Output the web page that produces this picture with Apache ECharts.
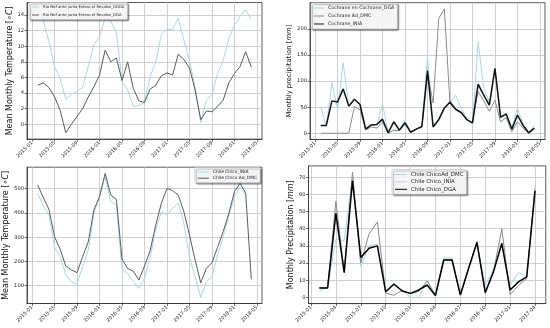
<!DOCTYPE html>
<html><head><meta charset="utf-8">
<script src="https://cdn.jsdelivr.net/npm/echarts@6/dist/echarts.min.js"></script>
<style>html,body{margin:0;padding:0;background:#fff}#c{width:550px;height:328px}</style>
</head><body><div id="c"></div>
<script>
// month lists (index 0 = 2015-01)
function monthList(start, n) {
  let y = +start.slice(0, 4), m = +start.slice(5, 7), out = [];
  for (let i = 0; i < n; i++) {
    out.push(y + '-' + String(m).padStart(2, '0'));
    m++; if (m > 12) { m = 1; y++; }
  }
  return out;
}
const months39 = monthList('2015-02', 39);   // 2015-02 .. 2018-04
const months27 = monthList('2015-02', 27);   // 2015-02 .. 2017-04

// Panel 1: Rio Nef temperature
const nefGDGA = [14.0,13.3,10.6,7.4,5.9,3.2,3.8,4.3,4.7,7.4,10.2,
  11.2,13.6,13.2,11.7,5.5,4.4,2.3,2.4,2.8,6.1,8.0,11.5,
  12.2,12.1,13.6,10.8,8.2,4.8,0.2,3.1,3.8,6.5,8.2,11.0,
  12.7,13.8,14.7,13.4];
const nefDGA = [5.0,5.3,4.7,3.5,1.8,-1.1,0.0,1.0,2.0,3.5,4.8,
  6.3,9.5,8.0,8.5,5.6,8.0,4.6,3.0,2.8,4.5,5.0,6.2,
  6.6,6.3,9.0,8.3,7.2,4.4,0.6,1.7,1.6,2.3,3.1,5.3,
  6.5,7.4,9.3,7.3];

// Panel 2: Cochrane precipitation
const cochDGA = [51,13,97,45,135,52,65,55,10,15,17,
  56,2,5,6,25,2,8,13,147,15,28,50,
  58,73,48,28,18,175,86,60,120,30,35,10,
  48,18,2,15];
const cochDMC = [0,0,0,0,0,0,51,45,7,12,10,
  22,0,6,5,18,2,8,12,115,58,220,238,
  57,45,38,26,20,80,62,42,63,22,30,3,
  22,10,0,8];
const cochINIA = [15,15,62,60,85,52,65,55,8,16,17,
  27,1,22,6,20,2,8,13,120,12,26,48,
  60,46,40,26,20,94,73,54,124,31,37,8,
  35,15,1,10];

// Panel 3: Chile Chico
const ccINIA = [481,428,391,258,220,144,116,107,178,247,398,
  467,549,446,433,167,151,116,89,130,217,330,405,
  391,419,440,357,220,137,52,116,137,226,302,391,
  467,505,474,null];
const ccDMC = [515,464,415,302,250,181,165,154,220,281,412,
  467,563,474,456,209,171,160,123,181,244,350,440,
  501,492,474,405,309,206,112,171,195,258,323,398,
  488,522,481,126];

// Panel 4: Chile Chico precipitation
const ccpDMC = [3.5,6,34,33,70,18,30,31,3,7,4,
  0,0,10,1,23,23,1,17,32,7,16,30,
  7,14.5,12,65];
const ccpINIA = [5.5,5.5,56,15,73,20,37,44,2.5,1.2,4,
  2,3.5,9.5,1.5,22,22,1.5,17,32.5,3,15,40,
  1.5,7,11,63];
const ccpDGA = [5.4,5.4,49,14.4,68,23.3,28.6,30,3.3,7.8,3.7,
  2.3,4.3,7.2,1,21.8,21.8,1.4,17,32,2.7,15,31.5,
  4.3,9,12,62];

// tick values
const xTicksLong = [0,4,8,12,16,20,24,28,32,36,40];
const xTicksShort = [0,3,6,9,12,15,18,21,24,27];
const yTicks1 = [0,2,4,6,8,10,12,14];
const yTicks2 = [0,50,100,150,200,250];
const yTicks3 = [100,200,300,400,500];
const yTicks4 = [0,10,20,30,40,50,60,70];

function monthIndex(s) { return (+s.slice(0,4) - 2015) * 12 + (+s.slice(5,7) - 1); }
function pairs(ms, vals) { return ms.map((m, i) => [monthIndex(m), vals[i]]); }
function fmtMonth(v) {
  const y = 2015 + Math.floor(v / 12), m = v % 12 + 1;
  return y + '-' + String(m).padStart(2, '0');
}

const FONT = 'DejaVu Sans';
const frame = '#333';
function xAx(gi, min, max, ticks, fs) {
  return {
    type: 'value', gridIndex: gi, min: min, max: max,
    axisLine: { show: true, onZero: false, lineStyle: { color: frame, width: 0.8 } },
    axisTick: { show: true, customValues: ticks, length: 2.5, lineStyle: { color: frame, width: 0.7 } },
    axisLabel: { customValues: ticks, formatter: fmtMonth, rotate: 45, fontSize: fs, margin: 3,
      color: '#222', fontFamily: FONT },
    splitLine: { show: true, lineStyle: { color: '#c4c4c4', width: 0.8 } }
  };
}
function yAx(gi, min, max, ticks, name, unit, nameSize, gap, tickSize) {
  return {
    type: 'value', gridIndex: gi, min: min, max: max,
    name: name + ' [{i|' + unit + '}]', nameLocation: 'middle', nameGap: gap,
    nameTextStyle: { fontSize: nameSize, color: '#111', fontFamily: FONT,
      rich: { i: { fontStyle: 'italic', fontSize: nameSize, color: '#111', fontFamily: FONT } } },
    axisLine: { show: true, onZero: false, lineStyle: { color: frame, width: 0.8 } },
    axisTick: { show: true, customValues: ticks, length: 2.5, lineStyle: { color: frame, width: 0.7 } },
    axisLabel: { customValues: ticks, fontSize: tickSize, margin: 3, color: '#222', fontFamily: FONT },
    splitLine: { show: true, lineStyle: { color: '#c4c4c4', width: 0.8 } }
  };
}
function ln(name, gi, ms, vals, color, width, z) {
  return { type: 'line', name: name, xAxisIndex: gi, yAxisIndex: gi, data: pairs(ms, vals),
    symbol: 'none', showSymbol: false, connectNulls: false, z: z || 2,
    lineStyle: { color: color, width: width }, itemStyle: { color: color }, animation: false };
}
function lg(pos, names, fontSize, iconW, gap) {
  return Object.assign({
    orient: 'vertical', data: names, icon: 'rect', itemWidth: iconW, itemHeight: 1,
    itemGap: gap, padding: [2.5, 3], backgroundColor: 'rgba(255,255,255,0.9)',
    borderColor: '#bbb', borderWidth: 0.6, borderRadius: 1,
    shadowColor: 'rgba(0,0,0,0.45)', shadowBlur: 1, shadowOffsetX: 1.5, shadowOffsetY: 1.5,
    textStyle: { fontSize: fontSize, color: '#222', fontFamily: FONT, padding: [0, 0, 0, -1] },
    selectedMode: false
  }, pos);
}

const LB = '#a6d8e6';
const option = {
  animation: false,
  grid: [
    { left: 27, width: 235, top: 2.5, height: 136.6, show: true, borderColor: frame, borderWidth: 0.8 },
    { left: 310, width: 235, top: 2.7, height: 136.8, show: true, borderColor: frame, borderWidth: 0.8 },
    { left: 27, width: 235, top: 167.2, height: 136.3, show: true, borderColor: frame, borderWidth: 0.8 },
    { left: 308.5, width: 237.3, top: 165.9, height: 137.7, show: true, borderColor: frame, borderWidth: 0.8 }
  ],
  xAxis: [
    xAx(0, -0.9, 40.9, xTicksLong, 5),
    xAx(1, -0.9, 40.9, xTicksLong, 5),
    xAx(2, -0.9, 40.9, xTicksLong, 5),
    xAx(3, -0.3, 28.3, xTicksShort, 5)
  ],
  yAxis: [
    yAx(0, -1.9, 15.6, yTicks1, 'Mean Monthly Temperature', '∘C', 8, 13, 5.2),
    yAx(1, -11.9, 249.9, yTicks2, 'Monthly precipitation', 'mm', 6.8, 16, 5.2),
    yAx(2, 26.5, 588.5, yTicks3, 'Mean Monthly Temperature', '∘C', 8, 14, 5.2),
    yAx(3, -3.65, 76.65, yTicks4, 'Monthly Precipitation', 'mm', 8, 13, 5.2)
  ],
  legend: [
    lg({ left: 29, top: 2.5 }, ['Rio Nef ante junta Estero el Revalse_GDGA', 'Rio Nef ante junta Estero el Revalse_DGA'], 3.8, 7, 4),
    lg({ left: 311, top: 3 }, ['Cochrane en Cochrane_DGA', 'Cochrane Ad_DMC', 'Cochrane_INIA'], 4.7, 10, 3),
    lg({ right: 290, top: 167.5 }, ['Chile Chico_INIA', 'Chile Chico Ad_DMC'], 4.4, 11, 2.2),
    lg({ left: 392, top: 169.5 }, ['Chile ChicoAd_DMC', 'Chile Chico_INIA', 'Chile Chico_DGA'], 5.4, 12, 2.4)
  ],
  series: [
    ln('Rio Nef ante junta Estero el Revalse_GDGA', 0, months39, nefGDGA, LB, 1),
    ln('Rio Nef ante junta Estero el Revalse_DGA', 0, months39, nefDGA, '#5a5a5a', 1, 3),
    ln('Cochrane en Cochrane_DGA', 1, months39, cochDGA, LB, 1),
    ln('Cochrane Ad_DMC', 1, months39, cochDMC, '#8a8a8a', 1, 3),
    ln('Cochrane_INIA', 1, months39, cochINIA, '#111', 1.5, 4),
    ln('Chile Chico_INIA', 2, months39, ccINIA, LB, 1),
    ln('Chile Chico Ad_DMC', 2, months39, ccDMC, '#5a5a5a', 1, 3),
    ln('Chile ChicoAd_DMC', 3, months27, ccpDMC, LB, 1),
    ln('Chile Chico_INIA', 3, months27, ccpINIA, '#888', 1, 3),
    ln('Chile Chico_DGA', 3, months27, ccpDGA, '#000', 1.5, 4)
  ]
};
const chart = echarts.init(document.getElementById('c'), null, { renderer: 'canvas' });
chart.setOption(option);
</script></body></html>
